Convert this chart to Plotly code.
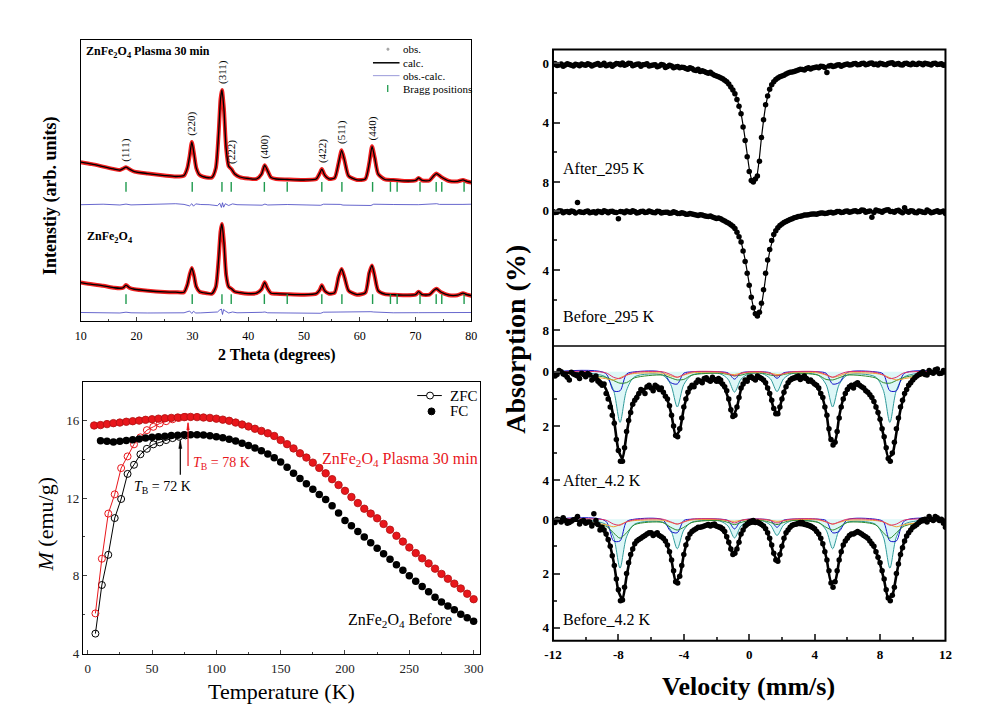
import plotly.graph_objects as go
import numpy as np

W, H = 981, 720
SERIF = "Liberation Serif, Times New Roman, serif"


def fx(px):
    return px / W


def fy(py):
    return 1 - py / H


# ---------------- XRD (top-left) ----------------
TWO_THETA = [10, 12, 14, 16, 17, 17.6, 18.1, 18.7, 19.6, 22, 25, 27, 28.5, 29.1, 29.5,
             29.9, 30.3, 30.7, 31.3, 32.5, 33.5, 34.2, 34.7, 35.05, 35.3, 35.65, 36.05, 36.5, 37.0, 37.6,
             38.5, 40, 41.5, 42.4, 42.95, 43.5, 44.1, 45, 47, 50, 52.2, 52.8, 53.2, 53.7, 54.5,
             55.5, 56.2, 56.75, 57.3, 58, 59.5, 61, 61.7, 62.2, 62.7, 63.3, 64.5, 66, 68, 70,
             70.55, 71.2, 72.5, 73.3, 73.75, 74.6, 76, 77.5, 78.5, 79.2, 80]
I_PLASMA = [31, 29, 26.5, 24, 23, 24.5, 26, 24, 21.5, 19.5, 17.5, 16.5, 17.5, 25, 37,
            51.5, 39, 25, 18, 15.5, 15.5, 25, 60, 95, 104, 85, 45, 27, 24, 19,
            16, 14.5, 14, 19, 28, 22, 15.5, 14, 13.5, 13, 14, 19.5, 24, 18, 14,
            15, 30, 43, 32, 17, 13, 14, 30, 47, 35, 19, 13.5, 13, 12, 12.5,
            15, 12.5, 12.5, 17.5, 19.5, 16, 12, 11.5, 13, 11.5, 10.5]
I_BEFORE = [19.3, 17.5, 16, 14, 13.5, 14, 16.7, 14, 12.5, 11, 9.8, 9.5, 9.5, 17, 27,
            34, 26, 15, 10, 8.5, 8, 15, 43, 71, 78.5, 60, 27, 15, 13, 10,
            9, 8, 8.5, 12.5, 19.5, 13, 8.5, 8, 7.5, 7, 8, 11.5, 16.5, 11, 8,
            9, 25, 33, 24, 11, 7, 9, 29, 36.5, 25, 11, 7.5, 7, 6.5, 7,
            10, 7, 7, 11.5, 13, 9.5, 6.5, 6.5, 8.5, 7, 6]
TT_DIFF = [10, 14, 17, 18.1, 19, 22, 25, 27, 28.5, 29.5,
           29.9, 30.2, 30.6, 31.5, 33, 34.5, 34.9, 35.2, 35.4, 35.6,
           35.9, 36.5, 37.2, 38, 42.5, 43, 43.5, 47, 53, 53.5,
           56.5, 57, 62, 62.5, 66, 70.5, 73.8, 74.3, 78.5, 80]
DIFF_PLASMA = [0, 0.5, -0.3, 0.6, -0.2, 0.4, 0.8, 1.0, 0.3, -1.2,
               1.0, -1.5, 0.8, 0.2, 0.0, -1.0, 1.5, -2.8, 2.0, -2.5,
               1.0, -0.8, 0.8, 0.0, -0.5, 0.6, -0.3, 0.2, -0.6, 0.5,
               0.3, -0.4, -0.8, 0.5, 0.2, 0.0, 1.0, 0.3, 0.3, 0.5]
DIFF_BEFORE = [0, -0.3, -0.5, 0.3, -0.3, -0.5, -0.6, -0.5, -0.3, 1.5,
               -1.0, 1.2, -0.5, -0.4, -0.3, 0.5, 2.5, 3.5, -2.0, 3.0,
               1.5, -0.5, 0.5, -0.3, 0.2, 0.5, -0.3, -0.4, -0.8, 0.3,
               0.6, 0.8, 0.8, 0.5, -0.3, -0.2, -0.3, -0.2, -0.2, 0]
BRAGG = [18.1, 29.97, 35.3, 36.96, 42.9, 47.0, 53.2, 56.8, 62.3, 65.5, 66.7, 70.8, 73.7, 74.7, 78.7]
HKL_LABELS = ["(111)", "(220)", "(311)", "(222)", "(400)", "(422)", "(511)", "(440)"]
HKL_POS = [18.1, 29.9, 35.3, 37.1, 42.95, 53.2, 56.75, 62.2]

OFF_TOP, OFF_BOT = 130, 20          # vertical offsets of stacked patterns
OFF_DIFF_TOP, OFF_DIFF_BOT = 118, 9
BRAGG_ROW_TOP, BRAGG_ROW_BOT = 136, 22.5

# ---------------- M(T) (bottom-left) ----------------
T_FC_RED = [5, 10, 15, 20, 25, 30, 35, 40, 45, 50, 55, 60, 65, 70, 75, 80, 85, 90, 95, 100,
            105, 110, 115, 120, 125, 130, 135, 140, 145, 150, 155, 160, 165, 170, 175, 180, 185, 190, 195, 200,
            205, 210, 215, 220, 225, 230, 235, 240, 245, 250, 255, 260, 265, 270, 275, 280, 285, 290, 295, 300]
M_FC_RED = [15.73, 15.75, 15.80, 15.85, 15.88, 15.92, 15.95, 15.98, 16.02, 16.05, 16.08, 16.10, 16.12, 16.14, 16.16,
            16.17, 16.16, 16.14, 16.12, 16.08, 16.03, 15.97, 15.88, 15.78, 15.68, 15.56, 15.45, 15.33, 15.19, 14.98,
            14.77, 14.55, 14.30, 14.08, 13.82, 13.55, 13.27, 12.97, 12.67, 12.37, 12.05, 11.74, 11.45, 11.20, 10.96,
            10.67, 10.37, 10.06, 9.76, 9.46, 9.17, 8.90, 8.64, 8.37, 8.10, 7.85, 7.60, 7.35, 7.08, 6.80]
T_FC_BLK = [10, 15, 20, 25, 30, 35, 40, 45, 50, 55, 60, 65, 70, 75, 80, 85, 90, 95, 100,
            105, 110, 115, 120, 125, 130, 135, 140, 145, 150, 155, 160, 165, 170, 175, 180, 185, 190, 195, 200,
            205, 210, 215, 220, 225, 230, 235, 240, 245, 250, 255, 260, 265, 270, 275, 280, 285, 290, 295, 300]
M_FC_BLK = [14.95, 14.92, 14.88, 14.92, 14.96, 15.00, 15.04, 15.08, 15.12, 15.15, 15.18, 15.21, 15.23, 15.25,
            15.25, 15.25, 15.24, 15.20, 15.15, 15.10, 15.02, 14.93, 14.82, 14.70, 14.57, 14.43, 14.26, 14.07, 13.85,
            13.58, 13.28, 13.00, 12.73, 12.45, 12.18, 11.93, 11.60, 11.23, 10.85, 10.57, 10.28, 10.00, 9.70, 9.42,
            9.13, 8.85, 8.57, 8.29, 8.00, 7.72, 7.45, 7.18, 6.90, 6.65, 6.45, 6.26, 6.03, 5.84, 5.66]
T_ZFC = [6, 11, 16, 21, 26, 31, 36, 41, 46, 51, 56, 61, 66, 71, 76]
M_ZFC_BLK = [5.03, 7.53, 9.08, 10.97, 11.95, 13.24, 13.71, 14.25, 14.53, 14.76, 14.86, 14.98, 15.08, 15.15, 15.22]
M_ZFC_RED = [6.07, 8.88, 11.2, 12.19, 13.54, 14.14, 14.76, 15.12, 15.49, 15.66, 15.83, 15.95, 16.05, 16.12, 16.17]
TB_BEFORE, TB_PLASMA = 72, 78

# ---------------- Mossbauer (right) ----------------
# channel velocities (two interleaved sets of channels)
VEL = [-12, -11.75, -11.5, -11.25, -11, -10.75, -10.5, -10.25,
       -10, -9.75, -9.5, -9.25, -9, -8.75, -8.5, -8.25,
       -8, -7.75, -7.5, -7.25, -7, -6.75, -6.5, -6.25,
       -6, -5.75, -5.5, -5.25, -5, -4.75, -4.5, -4.25,
       -4, -3.75, -3.5, -3.25, -3, -2.75, -2.5, -2.25,
       -2, -1.75, -1.5, -1.25, -1, -0.75, -0.5, -0.25,
       0, 0.25, 0.5, 0.75, 1, 1.25, 1.5, 1.75,
       2, 2.25, 2.5, 2.75, 3, 3.25, 3.5, 3.75,
       4, 4.25, 4.5, 4.75, 5, 5.25, 5.5, 5.75,
       6, 6.25, 6.5, 6.75, 7, 7.25, 7.5, 7.75,
       8, 8.25, 8.5, 8.75, 9, 9.25, 9.5, 9.75,
       10, 10.25, 10.5, 10.75, 11, 11.25, 11.5, 11.75, 12]
VEL_MID = [-11.875, -11.625, -11.375, -11.125, -10.875, -10.625, -10.375, -10.125,
           -9.875, -9.625, -9.375, -9.125, -8.875, -8.625, -8.375, -8.125,
           -7.875, -7.625, -7.375, -7.125, -6.875, -6.625, -6.375, -6.125,
           -5.875, -5.625, -5.375, -5.125, -4.875, -4.625, -4.375, -4.125,
           -3.875, -3.625, -3.375, -3.125, -2.875, -2.625, -2.375, -2.125,
           -1.875, -1.625, -1.375, -1.125, -0.875, -0.625, -0.375, -0.125,
           0.125, 0.375, 0.625, 0.875, 1.125, 1.375, 1.625, 1.875,
           2.125, 2.375, 2.625, 2.875, 3.125, 3.375, 3.625, 3.875,
           4.125, 4.375, 4.625, 4.875, 5.125, 5.375, 5.625, 5.875,
           6.125, 6.375, 6.625, 6.875, 7.125, 7.375, 7.625, 7.875,
           8.125, 8.375, 8.625, 8.875, 9.125, 9.375, 9.625, 9.875,
           10.125, 10.375, 10.625, 10.875, 11.125, 11.375, 11.625, 11.875]
AFTER_295 = [0.10, 0.15, 0.05, 0.12, 0.08, 0.18, 0.10, 0.05,
             0.14, 0.08, 0.12, 0.02, 0.10, 0.16, 0.06, 0.10,
             0.04, -0.02, 0.08, 0.02, 0.12, 0.05, 0.10, 0.04,
             0.15, 0.10, 0.18, 0.12, 0.22, 0.18, 0.25, 0.30,
             0.28, 0.40, 0.36, 0.48, 0.55, 0.55, 0.68, 0.72,
             0.85, 0.98, 1.15, 1.40, 1.80, 2.45, 3.40, 5.20,
             7.30, 8.00, 7.60, 5.00, 2.80, 1.75, 1.25, 1.00,
             0.85, 0.72, 0.60, 0.55, 0.45, 0.42, 0.35, 0.38,
             0.28, 0.30, 0.22, 0.62, 0.15, 0.18, 0.10, 0.14,
             0.05, 0.10, 0.02, 0.08, 0.00, 0.06, -0.02, 0.05,
             0.00, 0.08, 0.02, -0.03, 0.05, 0.10, 0.02, 0.06,
             0.00, 0.08, 0.04, 0.00, 0.06, 0.02, 0.08, 0.04, 0.10]
AFTER_295_MID = [0.02, 0.12, 0.20, 0.04, 0.14, 0.06, 0.16, 0.10,
                 0.04, 0.18, 0.06, 0.14, 0.00, 0.12, 0.20, 0.02,
                 0.10, 0.14, 0.00, 0.16, 0.06, 0.20, 0.08, 0.18,
                 0.12, 0.24, 0.08, 0.28, 0.14, 0.30, 0.22, 0.26,
                 0.36, 0.30, 0.45, 0.40, 0.50, 0.62, 0.60, 0.80,
                 0.90, 1.05, 1.25, 1.60, 2.05, 2.90, 4.30, 6.30,
                 7.90, 7.80, 6.60, 3.80, 2.20, 1.45, 1.10, 0.90,
                 0.80, 0.65, 0.58, 0.50, 0.40, 0.45, 0.30, 0.32,
                 0.25, 0.20, 0.28, 0.18, 0.22, 0.12, 0.20, 0.08,
                 0.12, 0.04, 0.10, 0.02, 0.10, 0.00, 0.08, 0.12,
                 0.04, 0.10, -0.02, 0.08, 0.02, 0.12, 0.00, 0.10,
                 0.06, 0.00, 0.10, 0.04, 0.12, 0.00, 0.06, 0.14]
BEFORE_295 = [0.05, 0.10, 0.02, 0.08, 0.12, 0.05, -0.55, 0.10,
              0.06, 0.14, 0.08, 0.04, 0.12, 0.06, 0.06, 0.10,
              0.55, 0.08, 0.02, 0.10, 0.05, 0.12, 0.04, 0.10,
              0.08, 0.14, 0.06, 0.12, 0.10, 0.16, 0.12, 0.20,
              0.18, 0.25, 0.22, 0.30, 0.28, 0.35, 0.40, 0.42,
              0.52, 0.55, 0.70, 0.85, 1.05, 1.45, 2.10, 3.40,
              5.00, 6.50, 7.05, 6.20, 4.20, 2.60, 1.60, 1.15,
              0.90, 0.72, 0.60, 0.48, 0.40, 0.35, 0.30, 0.25,
              0.22, 0.20, 0.15, 0.18, 0.10, 0.12, 0.05, 0.10,
              0.02, 0.08, 0.00, 0.05, -0.02, 0.06, 0.45, -0.05,
              0.04, 0.00, -0.06, 0.05, 0.00, 0.08, -0.20, 0.10,
              0.02, 0.14, 0.06, 0.12, 0.04, 0.10, 0.00, 0.08, 0.20]
BEFORE_295_MID = [0.12, 0.00, 0.14, 0.06, 0.02, 0.16, 0.08, 0.12,
                  0.02, 0.10, 0.16, 0.08, 0.00, 0.14, 0.04, 0.12,
                  0.06, 0.14, 0.08, 0.00, 0.16, 0.06, 0.12, 0.02,
                  0.12, 0.04, 0.16, 0.10, 0.18, 0.08, 0.20, 0.14,
                  0.24, 0.20, 0.26, 0.32, 0.30, 0.38, 0.36, 0.48,
                  0.50, 0.62, 0.78, 0.95, 1.20, 1.75, 2.70, 4.20,
                  5.80, 6.90, 6.80, 5.30, 3.30, 2.00, 1.35, 1.00,
                  0.80, 0.66, 0.55, 0.44, 0.38, 0.30, 0.28, 0.22,
                  0.24, 0.16, 0.20, 0.12, 0.15, 0.06, 0.12, 0.04,
                  0.10, 0.02, 0.08, -0.04, 0.10, 0.02, 0.12, 0.00,
                  0.10, -0.04, 0.06, 0.10, -0.02, 0.14, 0.04, 0.00,
                  0.12, 0.02, 0.10, -0.04, 0.14, 0.06, 0.10, 0.02]
AFTER_42 = [0.05, 0.10, 0.00, 0.12, 0.30, 0.08, 0.15, 0.05,
            0.18, 0.12, 0.25, 0.35, 0.50, 0.80, 1.30, 1.90,
            2.90, 3.30, 2.20, 1.50, 1.05, 0.80, 0.70, 0.55,
            0.60, 0.50, 0.65, 0.75, 1.00, 1.60, 2.35, 2.10,
            1.30, 0.75, 0.50, 0.40, 0.35, 0.25, 0.30, 0.20,
            0.35, 0.30, 0.55, 1.00, 1.65, 1.30, 0.60, 0.30,
            0.20, 0.25, 0.15, 0.25, 0.40, 0.80, 1.35, 1.55,
            1.00, 0.55, 0.30, 0.22, 0.15, 0.20, 0.25, 0.30,
            0.45, 0.60, 0.95, 1.60, 2.50, 2.60, 1.70, 1.00,
            0.65, 0.50, 0.45, 0.50, 0.60, 0.75, 0.95, 1.30,
            1.75, 2.40, 3.20, 3.00, 2.10, 1.30, 0.80, 0.50,
            0.30, 0.15, 0.05, 0.10, -0.05, 0.05, -0.10, 0.05, 0.02]
AFTER_42_MID = [0.15, -0.05, 0.08, 0.20, 0.02, 0.12, 0.25, 0.10,
                0.06, 0.30, 0.15, 0.42, 0.45, 1.00, 1.60, 2.50,
                3.30, 2.80, 1.80, 1.20, 0.95, 0.65, 0.80, 0.50,
                0.70, 0.55, 0.60, 0.90, 1.25, 2.00, 2.40, 1.70,
                1.00, 0.60, 0.55, 0.30, 0.40, 0.22, 0.35, 0.28,
                0.25, 0.45, 0.70, 1.40, 1.60, 0.95, 0.45, 0.35,
                0.18, 0.30, 0.20, 0.30, 0.60, 1.05, 1.55, 1.30,
                0.75, 0.40, 0.25, 0.18, 0.28, 0.15, 0.35, 0.38,
                0.50, 0.80, 1.30, 2.10, 2.70, 2.20, 1.30, 0.80,
                0.55, 0.60, 0.40, 0.55, 0.70, 0.85, 1.10, 1.50,
                2.10, 2.80, 3.30, 2.60, 1.70, 1.05, 0.65, 0.40,
                0.22, 0.10, 0.00, 0.12, 0.02, -0.08, 0.06, -0.05]
BEFORE_42 = [0.05, 0.00, 0.10, 0.05, 0.12, 0.02, -0.10, 0.08,
             0.15, 0.10, -0.20, 0.20, 0.30, 0.55, 1.00, 1.70,
             2.60, 2.97, 2.00, 1.30, 0.90, 0.75, 0.65, 0.55,
             0.50, 0.55, 0.60, 0.70, 0.95, 1.50, 2.30, 2.10,
             1.30, 0.70, 0.45, 0.35, 0.30, 0.25, 0.20, 0.20,
             0.25, 0.30, 0.45, 0.85, 1.30, 1.10, 0.55, 0.25,
             0.10, 0.05, 0.10, 0.20, 0.35, 0.70, 1.25, 1.55,
             1.00, 0.50, 0.30, 0.20, 0.15, 0.12, 0.20, 0.25,
             0.35, 0.55, 0.90, 1.50, 2.35, 2.30, 1.50, 0.95,
             0.70, 0.55, 0.50, 0.50, 0.60, 0.70, 0.90, 1.20,
             1.60, 2.20, 2.90, 2.80, 2.00, 1.30, 0.80, 0.50,
             0.30, 0.20, 0.05, 0.00, -0.10, 0.05, -0.05, 0.00, 0.30]
BEFORE_42_MID = [0.12, 0.02, -0.05, 0.15, 0.08, 0.00, 0.18, 0.05,
                 0.10, 0.25, 0.05, 0.40, 0.40, 0.75, 1.35, 2.20,
                 3.00, 2.50, 1.60, 1.10, 0.80, 0.70, 0.60, 0.50,
                 0.60, 0.50, 0.65, 0.80, 1.20, 1.90, 2.35, 1.70,
                 0.95, 0.55, 0.40, 0.30, 0.28, 0.22, 0.25, 0.18,
                 0.28, 0.35, 0.65, 1.10, 1.25, 0.85, 0.40, 0.18,
                 0.08, 0.12, 0.15, 0.25, 0.50, 0.95, 1.50, 1.30,
                 0.70, 0.40, 0.22, 0.18, 0.12, 0.18, 0.22, 0.30,
                 0.45, 0.70, 1.20, 1.90, 2.50, 1.90, 1.20, 0.80,
                 0.60, 0.55, 0.45, 0.55, 0.65, 0.80, 1.00, 1.40,
                 1.90, 2.60, 3.00, 2.50, 1.65, 1.05, 0.62, 0.40,
                 0.25, 0.12, 0.02, 0.10, 0.00, -0.10, 0.05, 0.15]
FIT_A42 = [0.02, 0.02, 0.03, 0.03, 0.04, 0.05, 0.06, 0.08,
           0.10, 0.13, 0.18, 0.26, 0.40, 0.65, 1.10, 1.85,
           2.90, 3.20, 2.30, 1.45, 1.00, 0.78, 0.66, 0.60,
           0.58, 0.60, 0.66, 0.78, 1.05, 1.60, 2.35, 2.15,
           1.35, 0.80, 0.55, 0.42, 0.35, 0.32, 0.31, 0.32,
           0.36, 0.44, 0.62, 1.05, 1.65, 1.30, 0.65, 0.38,
           0.27, 0.23, 0.24, 0.30, 0.45, 0.80, 1.35, 1.55,
           1.00, 0.55, 0.36, 0.28, 0.25, 0.26, 0.30, 0.37,
           0.48, 0.66, 1.00, 1.65, 2.55, 2.55, 1.65, 1.00,
           0.68, 0.54, 0.50, 0.52, 0.60, 0.74, 0.95, 1.28,
           1.78, 2.45, 3.15, 3.05, 2.25, 1.40, 0.85, 0.52,
           0.32, 0.20, 0.13, 0.09, 0.06, 0.05, 0.04, 0.03, 0.03]
FIT_B42 = [0.02, 0.02, 0.03, 0.03, 0.04, 0.05, 0.06, 0.08,
           0.10, 0.13, 0.17, 0.24, 0.36, 0.58, 1.00, 1.70,
           2.65, 2.95, 2.10, 1.35, 0.92, 0.72, 0.62, 0.56,
           0.54, 0.56, 0.62, 0.74, 1.00, 1.52, 2.28, 2.10,
           1.30, 0.74, 0.48, 0.36, 0.30, 0.26, 0.25, 0.26,
           0.30, 0.38, 0.52, 0.85, 1.28, 1.05, 0.55, 0.30,
           0.20, 0.16, 0.17, 0.23, 0.38, 0.72, 1.28, 1.52,
           1.00, 0.52, 0.32, 0.24, 0.21, 0.22, 0.26, 0.32,
           0.42, 0.60, 0.92, 1.52, 2.30, 2.28, 1.52, 0.95,
           0.66, 0.53, 0.49, 0.50, 0.57, 0.70, 0.90, 1.20,
           1.65, 2.25, 2.90, 2.80, 2.05, 1.30, 0.80, 0.50,
           0.31, 0.20, 0.13, 0.09, 0.06, 0.05, 0.04, 0.03, 0.03]
FIT_A295_V = [-12, -8, -6, -4, -3, -2, -1.5, -1, -0.75, -0.5, -0.25, 0, 0.15, 0.3, 0.45, 0.6, 0.75,
              1.0, 1.25, 1.5, 2, 2.5, 3, 4, 6, 8, 12]
FIT_A295 = [0.05, 0.08, 0.12, 0.25, 0.45, 0.80, 1.10, 1.75, 2.40, 3.40, 5.10, 7.10, 7.85, 8.0, 7.7, 6.6, 5.0,
            2.9, 1.8, 1.3, 0.85, 0.6, 0.45, 0.28, 0.1, 0.05, 0.04]
FIT_B295_V = [-12, -8, -6, -4, -3, -2, -1.5, -1, -0.75, -0.5, -0.25, 0, 0.2, 0.4, 0.55, 0.7, 0.9,
              1.1, 1.3, 1.6, 2, 2.5, 3, 4, 6, 8, 12]
FIT_B295 = [0.05, 0.07, 0.1, 0.18, 0.28, 0.5, 0.7, 1.05, 1.45, 2.1, 3.3, 4.9, 6.2, 6.95, 7.0, 6.6, 5.3,
            3.7, 2.5, 1.5, 0.95, 0.6, 0.42, 0.22, 0.08, 0.05, 0.04]
# sub-spectra (sextet components) of the 4.2 K fits
COMP_V = [-12, -8.8, -8.3, -7.9, -7.5, -7.0, -5.3, -4.8, -4.4, -4.0, -3.5, -1.8, -1.3, -0.9, -0.5, 0.0,
          0.8, 1.3, 1.7, 2.1, 2.6, 4.2, 4.7, 5.1, 5.5, 6.0, 7.7, 8.2, 8.6, 9.0, 9.5, 12]
A_CYAN = [0, 0.18, 0.68, 1.87, 0.68, 0.18, 0.12, 0.47, 1.3, 0.47, 0.12, 0.07, 0.27, 0.75, 0.27, 0.07,
          0.07, 0.26, 0.73, 0.26, 0.07, 0.12, 0.47, 1.3, 0.47, 0.12, 0.18, 0.68, 1.87, 0.68, 0.18, 0]
A_BLUE = [0, 0.05, 0.7, 0.7, 0.08, 0.0, 0.02, 0.4, 0.45, 0.05, 0.0, 0.0, 0.04, 0.27, 0.04, 0.0,
          0.0, 0.04, 0.24, 0.04, 0.0, 0.0, 0.05, 0.45, 0.4, 0.02, 0.0, 0.08, 0.7, 0.7, 0.05, 0]
A_GREEN = [0, 0.2, 0.32, 0.42, 0.4, 0.22, 0.12, 0.22, 0.3, 0.28, 0.12, 0.05, 0.1, 0.15, 0.12, 0.05,
           0.05, 0.12, 0.15, 0.1, 0.05, 0.12, 0.28, 0.3, 0.22, 0.12, 0.22, 0.4, 0.42, 0.32, 0.2, 0]
A_ORANGE = [0, 0.25, 0.3, 0.22, 0.12, 0.06, 0.05, 0.15, 0.2, 0.12, 0.04, 0.02, 0.08, 0.1, 0.05, 0.02,
            0.02, 0.05, 0.1, 0.08, 0.02, 0.04, 0.12, 0.2, 0.15, 0.05, 0.06, 0.12, 0.22, 0.3, 0.25, 0]
A_RED = [0, 0.03, 0.2, 0.25, 0.12, 0.02, 0.0, 0.1, 0.2, 0.1, 0.0, 0.0, 0.06, 0.15, 0.06, 0.0,
         0.0, 0.06, 0.15, 0.06, 0.0, 0.0, 0.1, 0.2, 0.1, 0.0, 0.02, 0.12, 0.25, 0.2, 0.03, 0]
B_CYAN = [0, 0.18, 0.65, 1.8, 0.65, 0.18, 0.11, 0.4, 1.09, 0.4, 0.11, 0.07, 0.25, 0.69, 0.25, 0.07,
          0.06, 0.22, 0.6, 0.22, 0.06, 0.11, 0.4, 1.09, 0.4, 0.11, 0.18, 0.65, 1.8, 0.65, 0.18, 0]
B_BLUE = [0, 0.06, 0.8, 0.8, 0.09, 0.0, 0.02, 0.45, 0.5, 0.05, 0.0, 0.0, 0.05, 0.36, 0.05, 0.0,
          0.0, 0.04, 0.3, 0.04, 0.0, 0.0, 0.05, 0.5, 0.45, 0.02, 0.0, 0.09, 0.8, 0.8, 0.06, 0]
B_GREEN = [0, 0.25, 0.5, 0.7, 0.5, 0.2, 0.12, 0.3, 0.4, 0.3, 0.12, 0.05, 0.12, 0.2, 0.12, 0.05,
           0.05, 0.12, 0.2, 0.12, 0.05, 0.12, 0.3, 0.4, 0.3, 0.12, 0.2, 0.5, 0.7, 0.5, 0.25, 0]
B_ORANGE = [0, 0.2, 0.28, 0.2, 0.1, 0.05, 0.04, 0.12, 0.18, 0.1, 0.03, 0.02, 0.06, 0.08, 0.04, 0.02,
            0.02, 0.04, 0.08, 0.06, 0.02, 0.03, 0.1, 0.18, 0.12, 0.04, 0.05, 0.1, 0.2, 0.28, 0.2, 0]
B_RED = [0, 0.03, 0.18, 0.22, 0.1, 0.02, 0.0, 0.1, 0.18, 0.1, 0.0, 0.0, 0.05, 0.14, 0.05, 0.0,
         0.0, 0.05, 0.14, 0.05, 0.0, 0.0, 0.1, 0.18, 0.1, 0.0, 0.02, 0.1, 0.22, 0.18, 0.03, 0]
SPEC_LABELS = ["After_295 K", "Before_295 K", "After_4.2 K", "Before_4.2 K"]
VEL_TICKS = [-12, -8, -4, 0, 4, 8, 12]

RED = "#e8161b"
fig = go.Figure()

# ---- XRD traces ----
tt = np.array(TWO_THETA)
for inten, off in ((I_PLASMA, OFF_TOP), (I_BEFORE, OFF_BOT)):
    y = np.array(inten) + off
    fig.add_trace(go.Scatter(x=tt, y=y, mode="lines", line=dict(color="#f02020", width=4, shape="spline", smoothing=0.6),
                             xaxis="x", yaxis="y", showlegend=False, hoverinfo="skip"))
    fig.add_trace(go.Scatter(x=tt, y=y, mode="lines", line=dict(color="black", width=1.3, shape="spline", smoothing=0.6),
                             xaxis="x", yaxis="y", showlegend=False))
for dif, off in ((DIFF_PLASMA, OFF_DIFF_TOP), (DIFF_BEFORE, OFF_DIFF_BOT)):
    fig.add_trace(go.Scatter(x=TT_DIFF, y=np.array(dif) + off, mode="lines", line=dict(color="#4040c0", width=0.8),
                             xaxis="x", yaxis="y", showlegend=False))
for row in (BRAGG_ROW_TOP, BRAGG_ROW_BOT):
    fig.add_trace(go.Scatter(x=BRAGG, y=[row] * len(BRAGG), mode="markers",
                             marker=dict(symbol="line-ns", size=7, line=dict(color="#1f9a4e", width=1.4)),
                             xaxis="x", yaxis="y", showlegend=False))

# ---- M(T) traces ----
fig.add_trace(go.Scatter(x=T_ZFC, y=M_ZFC_BLK, mode="lines+markers", line=dict(color="black", width=1),
                         marker=dict(symbol="circle-open", size=7, color="black", line=dict(width=1)),
                         xaxis="x2", yaxis="y2", showlegend=False))
fig.add_trace(go.Scatter(x=T_ZFC, y=M_ZFC_RED, mode="lines+markers", line=dict(color=RED, width=1),
                         marker=dict(symbol="circle-open", size=7, color=RED, line=dict(width=1)),
                         xaxis="x2", yaxis="y2", showlegend=False))
fig.add_trace(go.Scatter(x=T_FC_BLK, y=M_FC_BLK, mode="markers",
                         marker=dict(symbol="circle", size=7.5, color="black"),
                         xaxis="x2", yaxis="y2", showlegend=False))
fig.add_trace(go.Scatter(x=T_FC_RED, y=M_FC_RED, mode="markers",
                         marker=dict(symbol="circle", size=7.5, color=RED, line=dict(color="#b01010", width=0.8)),
                         xaxis="x2", yaxis="y2", showlegend=False))

# ---- Mossbauer traces ----
comp_style = [("#2f9a9a", True), ("#1414c8", False), ("#2e8b2e", False), ("#f0a030", False), ("#e0306a", False)]
for yax, comps in (("y5", (A_CYAN, A_BLUE, A_GREEN, A_ORANGE, A_RED)),
                   ("y6", (B_CYAN, B_BLUE, B_GREEN, B_ORANGE, B_RED))):
    for vals, (col, filled) in zip(comps, comp_style):
        fig.add_trace(go.Scatter(x=COMP_V, y=vals, mode="lines",
                                 line=dict(color=col, width=1, shape="spline", smoothing=0.8),
                                 fill="tozeroy" if filled else None,
                                 fillcolor="rgba(210,244,244,0.75)" if filled else None,
                                 xaxis="x3", yaxis=yax, showlegend=False))

for yax, data, mid in (("y3", AFTER_295, AFTER_295_MID), ("y4", BEFORE_295, BEFORE_295_MID),
                       ("y5", AFTER_42, AFTER_42_MID), ("y6", BEFORE_42, BEFORE_42_MID)):
    fig.add_trace(go.Scatter(x=VEL + VEL_MID, y=data + mid, mode="markers", marker=dict(size=5.5, color="black"),
                             xaxis="x3", yaxis=yax, showlegend=False))
for yax, fv, fvals, wid in (("y3", FIT_A295_V, FIT_A295, 1.2), ("y4", FIT_B295_V, FIT_B295, 1.2),
                            ("y5", VEL, FIT_A42, 2.6), ("y6", VEL, FIT_B42, 2.6)):
    fig.add_trace(go.Scatter(x=fv, y=fvals, mode="lines", line=dict(color="black", width=wid, shape="spline", smoothing=0.6),
                             xaxis="x3", yaxis=yax, showlegend=False))

# ---------------- layout ----------------
tick_serif = dict(family=SERIF, size=12, color="black")
tick_bold = dict(family=SERIF, size=13, color="black", weight="bold")
common = dict(showgrid=False, zeroline=False)

spec_axes = {
    "yaxis3": dict(domain=[fy(200), fy(50)], range=[9.067, -0.933], dtick=4, tick0=0, minor=dict(dtick=2, ticks="inside", ticklen=4)),
    "yaxis4": dict(domain=[fy(350), fy(200)], range=[9.073, -0.861], dtick=4, tick0=0, minor=dict(dtick=2, ticks="inside", ticklen=4)),
    "yaxis5": dict(domain=[fy(500), fy(350)], range=[4.526, -0.949], dtick=2, tick0=0, minor=dict(dtick=1, ticks="inside", ticklen=4)),
    "yaxis6": dict(domain=[fy(648), fy(500)], range=[4.473, -0.909], dtick=2, tick0=0, minor=dict(dtick=1, ticks="inside", ticklen=4)),
}
for k, v in spec_axes.items():
    v.update(anchor="x3", ticks="inside", ticklen=7, tickwidth=1.5, tickfont=tick_bold, showline=False,
             ticklabelstandoff=3, **common)

annotations = []


def ann(text, x, y, size, xanchor="center", yanchor="middle", angle=0, color="black", bold=False, ref=("paper", "paper")):
    f = dict(family=SERIF, size=size, color=color)
    if bold:
        f["weight"] = "bold"
    annotations.append(dict(text=text, x=x, y=y, xref=ref[0], yref=ref[1], showarrow=False,
                            xanchor=xanchor, yanchor=yanchor, textangle=angle, font=f))


# XRD texts
ann("ZnFe<sub>2</sub>O<sub>4</sub> Plasma 30 min", fx(76), fy(53), 12, xanchor="left", bold=True)
ann("ZnFe<sub>2</sub>O<sub>4</sub>", fx(77), fy(240), 12, xanchor="left", bold=True)
for lab, pos in zip(HKL_LABELS, HKL_POS):
    yv = OFF_TOP + float(np.interp(pos, TWO_THETA, I_PLASMA)) + 4
    ann(lab, pos, yv, 11, yanchor="bottom", angle=-90, ref=("x", "y"))
ann("Intenstiy (arb. units)", fx(43), fy(198), 18, angle=-90, bold=True)
ann("2 Theta (degrees)", fx(272), fy(359), 16, bold=True)
for txt, py in (("obs.", 50), ("calc.", 63.5), ("obs.-calc.", 76.5), ("Bragg positions", 89.5)):
    ann(txt, fx(399), fy(py), 11, xanchor="left")

# M(T) texts
ann("<i>M</i> (emu/g)", fx(37), fy(530), 22, angle=-90)
ann("Temperature (K)", fx(277), fy(699), 22)
ann("<i>T</i><sub>B</sub> = 72 K", 58, 12.55, 14, ref=("x2", "y2"))
ann("<i>T</i><sub>B</sub> = 78 K", 80.5, 13.8, 14, xanchor="left", color=RED, ref=("x2", "y2"))
ann("ZnFe<sub>2</sub>O<sub>4</sub> Plasma 30 min", 243, 13.97, 16, color=RED, ref=("x2", "y2"))
ann("ZnFe<sub>2</sub>O<sub>4</sub> Before", 243, 5.68, 16, ref=("x2", "y2"))
ann("ZFC", fx(446), fy(400), 15, xanchor="left")
ann("FC", fx(446), fy(416), 15, xanchor="left")

# Mossbauer texts
ann("Absorption (%)", fx(515), fy(343), 28, angle=-90, bold=True)
ann("Velocity (mm/s)", fx(752), fy(694), 26, bold=True)
for lab, yax, yv in zip(SPEC_LABELS, ("y3", "y4", "y5", "y6"), (7.1, 7.1, 4.0, 3.7)):
    ann(lab, -11.5, yv, 16, xanchor="left", ref=("x3", yax))

shapes = [
    dict(type="rect", xref="paper", yref="paper", x0=fx(553), x1=fx(952), y0=fy(648), y1=fy(50),
         line=dict(color="black", width=2)),
    dict(type="line", xref="paper", yref="paper", x0=fx(553), x1=fx(952), y0=fy(350), y1=fy(350),
         line=dict(color="black", width=1.5)),
    # blocking-temperature markers (arrows at T_B)
    dict(type="line", xref="x2", yref="y2", x0=TB_BEFORE, x1=TB_BEFORE, y0=13.2, y1=14.95,
         line=dict(color="black", width=1.2)),
    dict(type="path", xref="x2", yref="y2",
         path=f"M {TB_BEFORE - 1.2},14.55 L {TB_BEFORE + 1.2},14.55 L {TB_BEFORE},14.98 Z",
         fillcolor="black", line=dict(color="black", width=0.5)),
    dict(type="line", xref="x2", yref="y2", x0=TB_PLASMA, x1=TB_PLASMA, y0=13.65, y1=15.85,
         line=dict(color=RED, width=1.2)),
    dict(type="path", xref="x2", yref="y2",
         path=f"M {TB_PLASMA - 1.0},15.5 L {TB_PLASMA + 1.0},15.5 L {TB_PLASMA},15.88 Z",
         fillcolor=RED, line=dict(color=RED, width=0.5)),
    # XRD legend keys
    dict(type="circle", xref="paper", yref="paper", x0=fx(384), x1=fx(386.5), y0=fy(51), y1=fy(48.5),
         line=dict(color="#999999", width=0.5), fillcolor="#aaaaaa"),
    dict(type="line", xref="paper", yref="paper", x0=fx(370), x1=fx(397), y0=fy(63.5), y1=fy(63.5),
         line=dict(color="black", width=1.5)),
    dict(type="line", xref="paper", yref="paper", x0=fx(370), x1=fx(397), y0=fy(76.5), y1=fy(76.5),
         line=dict(color="#8080d0", width=0.8)),
    dict(type="line", xref="paper", yref="paper", x0=fx(385), x1=fx(385), y0=fy(93), y1=fy(86),
         line=dict(color="#1f9a4e", width=1.3)),
    # M(T) legend keys
    dict(type="line", xref="paper", yref="paper", x0=fx(415), x1=fx(440), y0=fy(400), y1=fy(400),
         line=dict(color="black", width=1)),
    dict(type="circle", xref="paper", yref="paper", x0=fx(424.5), x1=fx(431.5), y0=fy(403.5), y1=fy(396.5),
         line=dict(color="black", width=1), fillcolor="white"),
    dict(type="circle", xref="paper", yref="paper", x0=fx(426), x1=fx(433), y0=fy(419.5), y1=fy(412.5),
         line=dict(color="black", width=1), fillcolor="black"),
]

fig.update_layout(
    width=W, height=H, margin=dict(l=0, r=0, t=0, b=0),
    paper_bgcolor="white", plot_bgcolor="white", showlegend=False, hovermode=False,
    xaxis=dict(domain=[fx(73), fx(470)], range=[10, 80], anchor="y", dtick=10, tick0=0, ticks="inside", ticklen=4,
               minor=dict(dtick=5, ticks="inside", ticklen=2), showline=True, mirror=True, linecolor="black", linewidth=1,
               tickfont=tick_serif, ticklabelstandoff=3, **common),
    yaxis=dict(domain=[fy(325), fy(40)], range=[0, 285], anchor="x", showticklabels=False, ticks="",
               showline=True, mirror=True, linecolor="black", linewidth=1, **common),
    xaxis2=dict(domain=[fx(75), fx(479)], range=[-3.82, 305.1], anchor="y2", dtick=50, tick0=0, ticks="inside", ticklen=4,
                minor=dict(dtick=25, ticks="inside", ticklen=2), showline=True, mirror=True, linecolor="black", linewidth=1,
                tickfont=dict(family=SERIF, size=13, color="#222"), ticklabelstandoff=3, **common),
    yaxis2=dict(domain=[fy(661), fy(386)], range=[4, 17.98], anchor="x2", dtick=4, tick0=0, ticks="inside", ticklen=4,
                minor=dict(dtick=2, ticks="inside", ticklen=2), showline=True, mirror=True, linecolor="black", linewidth=1,
                tickfont=dict(family=SERIF, size=13, color="#222"), **common),
    xaxis3=dict(domain=[fx(553), fx(952)], range=[-12, 12], anchor="y6", tickmode="array", tickvals=VEL_TICKS,
                ticktext=[str(v) for v in VEL_TICKS], ticks="inside", ticklen=7, tickwidth=1.5,
                minor=dict(dtick=2, tick0=0, ticks="inside", ticklen=4), showline=False,
                tickfont=tick_bold, ticklabelstandoff=4, **common),
    annotations=annotations, shapes=shapes,
    **spec_axes,
)

# remove the browser's default page margin so the 981x720 figure fills the window exactly
fig.write_html("out.html", config={"displayModeBar": False},
               post_script="document.body.style.margin='0';document.documentElement.style.overflow='hidden';")
